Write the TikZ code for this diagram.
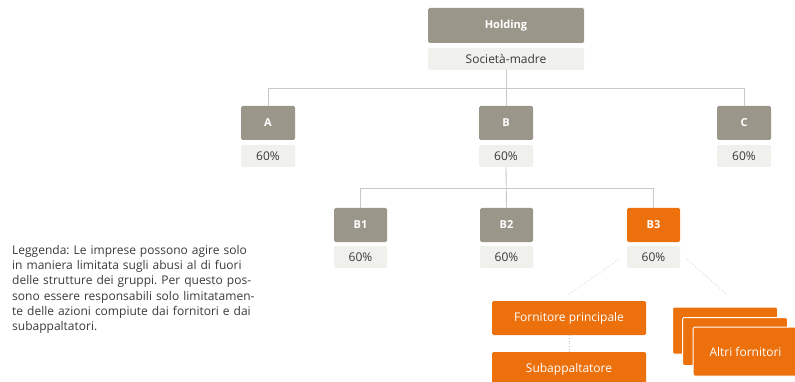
\documentclass[tikz,border=0pt]{standalone}
\usepackage{fontspec}
\setmainfont{Open Sans}
\frenchspacing
\begin{document}
\definecolor{boxgray}{HTML}{9A978A}
\definecolor{boxlight}{HTML}{F0F0EC}
\definecolor{boxorange}{HTML}{EC700C}
\definecolor{linegray}{HTML}{C8C8C8}
\definecolor{txtdark}{HTML}{3A3A3A}
\begin{tikzpicture}[x=1pt,y=-1pt,
  graybox/.style={fill=boxgray,rounded corners=1.5pt,text=white,font=\fontsize{11}{13}\selectfont\bfseries,inner sep=0pt},
  lightbox/.style={fill=boxlight,rounded corners=1.5pt,text=txtdark,font=\fontsize{12}{14}\selectfont,inner sep=0pt},
  orangebox/.style={fill=boxorange,rounded corners=1.5pt,text=white,font=\fontsize{12}{14}\selectfont,inner sep=0pt},
  conn/.style={draw=linegray,line width=0.9pt},
  dotconn/.style={draw=linegray,line width=0.7pt,dotted}
]
\useasboundingbox (0,0) rectangle (795,382);
% top
\node[graybox,minimum width=156pt,minimum height=35pt] (hold) at (506,25.5) {Holding};
\node[lightbox,minimum width=156pt,minimum height=22pt] (madre) at (506,59) {Società-madre};
% level 1
\node[graybox,minimum width=54pt,minimum height=34pt] (A) at (268,123) {A};
\node[lightbox,minimum width=54pt,minimum height=22pt] (Ap) at (268,156) {60\%};
\node[graybox,minimum width=54pt,minimum height=34pt] (B) at (506,123) {B};
\node[lightbox,minimum width=54pt,minimum height=22pt] (Bp) at (506,156) {60\%};
\node[graybox,minimum width=54pt,minimum height=34pt] (C) at (744,123) {C};
\node[lightbox,minimum width=54pt,minimum height=22pt] (Cp) at (744,156) {60\%};
% level 2
\node[graybox,minimum width=53pt,minimum height=34pt] (B1) at (360.5,225) {B1};
\node[lightbox,minimum width=53pt,minimum height=22pt] (B1p) at (360.5,257) {60\%};
\node[graybox,minimum width=53pt,minimum height=34pt] (B2) at (506.5,225) {B2};
\node[lightbox,minimum width=53pt,minimum height=22pt] (B2p) at (506.5,257) {60\%};
\node[orangebox,minimum width=53pt,minimum height=34pt,font=\fontsize{11}{13}\selectfont\bfseries] (B3) at (653.5,225) {B3};
\node[lightbox,minimum width=53pt,minimum height=22pt] (B3p) at (653.5,257) {60\%};
% connectors level 1
\coordinate (h1) at (506,88);
\draw[conn] (madre.south) -- (B.north);
\draw[conn] (A.north) -- (A.north |- h1) -- (C.north |- h1) -- (C.north);
% connectors level 2
\coordinate (h2) at (506,188);
\draw[conn] (Bp.south) -- (B2.north);
\draw[conn] (B1.north) -- (B1.north |- h2) -- (B3.north |- h2) -- (B3.north);
% suppliers
\node[orangebox,minimum width=154pt,minimum height=34pt] (forn) at (569,318) {Fornitore principale};
\node[orangebox,minimum width=154pt,minimum height=34pt] (sub) at (569,369) {Subappaltatore};
\node[orangebox,draw=white,line width=1pt,minimum width=105pt,minimum height=47pt] (alt1) at (725,330.5) {};
\node[orangebox,draw=white,line width=1pt,minimum width=105pt,minimum height=48pt] (alt2) at (735,341.5) {};
\node[orangebox,draw=white,line width=1pt,minimum width=105pt,minimum height=49pt] (alt3) at (745.5,351.5) {Altri fornitori};
\coordinate (d1a) at (618,260);
\coordinate (d1b) at (568,295);
\coordinate (d2a) at (687,259);
\coordinate (d2b) at (726,294);
\draw[dotconn] (d1a) -- (d1b);
\draw[dotconn] (d2a) -- (d2b);
\draw[dotconn] (forn.south) -- (sub.north);
% legend
\node[anchor=north west,inner sep=0pt,text=txtdark,text width=300pt,align=left,font=\fontsize{12}{15.1}\selectfont] (leg) at (12,245.4) {\setlength{\baselineskip}{15.1pt}Leggenda: Le imprese possono agire solo\\in maniera limitata sugli abusi al di fuori\\delle strutture dei gruppi. Per questo pos-\\sono essere responsabili solo limitatamen-\\te delle azioni compiute dai fornitori e dai\\subappaltatori.};
\end{tikzpicture}
\end{document}
